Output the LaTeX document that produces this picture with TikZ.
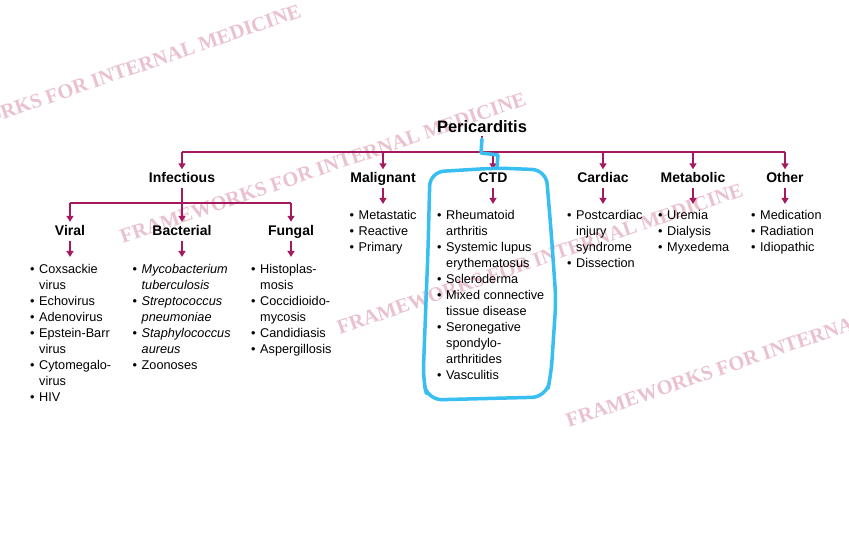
\documentclass[tikz,border=0pt]{standalone}
\usepackage{fontspec}
\setmainfont{Liberation Sans}
\newfontfamily\wmfont{Liberation Serif}
\usetikzlibrary{arrows.meta}

\definecolor{tree}{RGB}{165,25,95}
\definecolor{hlblue}{RGB}{56,190,240}
\definecolor{wmpink}{RGB}{234,194,206}

\newcommand{\bl}{\makebox[9pt][l]{\textbullet}}
\newcommand{\cn}{\hspace*{9pt}}

\begin{document}
\begin{tikzpicture}[x=1pt,y=-1pt,
  link/.style={draw=tree,line width=1.5pt},
  arr/.style={link,-{Triangle[width=7pt,length=6pt]}},
  cause/.style={font=\fontsize{14}{16}\selectfont\bfseries,inner sep=3pt,
    text height=10pt,text depth=0pt,anchor=base},
  items/.style={font=\fontsize{12.7}{16}\selectfont,align=left,
    anchor=north west,inner sep=0pt},
  stamp/.style={text=wmpink,font=\wmfont\bfseries\fontsize{20.5}{22}\selectfont,rotate=19},
  highlight/.style={draw=hlblue,line width=3.5pt,line cap=round,line join=round}]
\path[use as bounding box,fill=white] (0,0) rectangle (849,546);
% WATERMARK
\begin{scope}
\clip (0,0) rectangle (849,546);
\node[stamp] (wm1) at (98,80) {FRAMEWORKS FOR INTERNAL MEDICINE};
\node[stamp] (wm2) at (323,168) {FRAMEWORKS FOR INTERNAL MEDICINE};
\node[stamp] (wm3) at (540,259) {FRAMEWORKS FOR INTERNAL MEDICINE};
\node[stamp] (wm4) at (769,352) {FRAMEWORKS FOR INTERNAL MEDICINE};
\end{scope}
% NODES
\node[cause,font=\fontsize{16.5}{18}\selectfont\bfseries] (peri) at (482,132.7) {Pericarditis};

\node[cause] (inf) at (182,182.5) {Infectious};
\node[cause] (mal) at (383,182.5) {Malignant};
\node[cause] (ctd) at (493,182.5) {CTD};
\node[cause] (car) at (603,182.5) {Cardiac};
\node[cause] (met) at (693,182.5) {Metabolic};
\node[cause] (oth) at (785,182.5) {Other};

\node[cause] (vir) at (70,235) {Viral};
\node[cause] (bac) at (182,235) {Bacterial};
\node[cause] (fun) at (291,235) {Fungal};
% LISTS
\node[items] (virl) at (30,263.9) {\bl Coxsackie\\ \cn virus\\ \bl Echovirus\\ \bl Adenovirus\\
  \bl Epstein-Barr\\ \cn virus\\ \bl Cytomegalo-\\ \cn virus\\ \bl HIV};
\node[items] (bacl) at (132.5,263.9) {\bl \textit{Mycobacterium}\\ \cn \textit{tuberculosis}\\
  \bl \textit{Streptococcus}\\ \cn \textit{pneumoniae}\\ \bl \textit{Staphylococcus}\\
  \cn \textit{aureus}\\ \bl Zoonoses};
\node[items] (funl) at (251,263.9) {\bl Histoplas-\\ \cn mosis\\ \bl Coccidioido-\\ \cn mycosis\\
  \bl Candidiasis\\ \bl Aspergillosis};

\node[items] (mall) at (349.5,209.9) {\bl Metastatic\\ \bl Reactive\\ \bl Primary};
\node[items] (ctdl) at (437,209.9) {\bl Rheumatoid\\ \cn arthritis\\ \bl Systemic lupus\\
  \cn erythematosus\\ \bl Scleroderma\\ \bl Mixed connective\\ \cn tissue disease\\
  \bl Seronegative\\ \cn spondylo-\\ \cn arthritides\\ \bl Vasculitis};
\node[items] (carl) at (567,209.9) {\bl Postcardiac\\ \cn injury\\ \cn syndrome\\ \bl Dissection};
\node[items] (metl) at (658,209.9) {\bl Uremia\\ \bl Dialysis\\ \bl Myxedema};
\node[items] (othl) at (751,209.9) {\bl Medication\\ \bl Radiation\\ \bl Idiopathic};
% CONNECTIONS
\coordinate (bus) at (0,152);
\coordinate (sub) at (0,203);
\draw[link] (peri.south) -- (peri.south |- bus);
\draw[link] (inf.north |- bus) -- (oth.north |- bus);
\foreach \n in {inf,mal,ctd,car,met,oth}
  \draw[arr] (\n.north |- bus) -- (\n.north);

\draw[arr,shorten <=2.5pt] (inf.south) -- (bac.north);
\draw[link] (vir.north |- sub) -- (fun.north |- sub);
\draw[arr] (vir.north |- sub) -- (vir.north);
\draw[arr] (fun.north |- sub) -- (fun.north);

\foreach \n in {mal,ctd,car,met,oth}
  \draw[arr,shorten <=2.5pt,shorten >=6pt] (\n.south) -- (\n.south |- \n l.north);
\foreach \n in {vir,bac,fun}
  \draw[arr,shorten <=2.5pt,shorten >=7pt] (\n.south) -- (\n.south |- \n l.north);
% HIGHLIGHT
\draw[highlight] (482,139) -- (481,153) -- (498,155) -- (497,168);
\draw[highlight,rounded corners=14pt] (497,168) -- (546,170) -- (551,230) -- (556,300)
  -- (551,375) -- (546,397) -- (428,400) -- (423,380) -- (428,250) -- (430,172) -- cycle;
\end{tikzpicture}
\end{document}
